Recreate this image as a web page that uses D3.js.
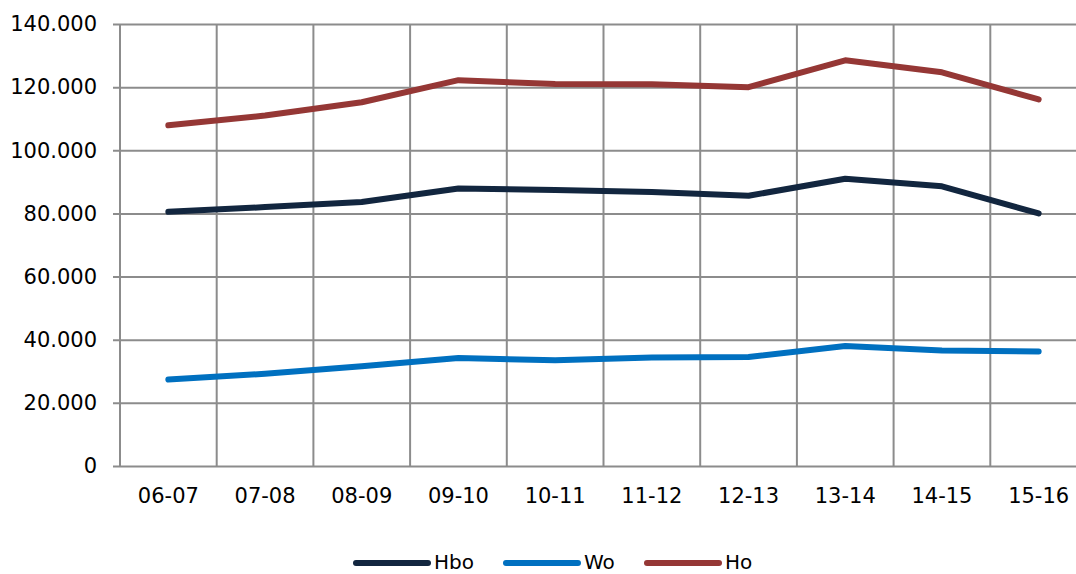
<!DOCTYPE html>
<html>
<head>
<meta charset="utf-8">
<script src="https://cdn.jsdelivr.net/npm/d3@7"></script>
<style>
    body { margin: 0; background: #fff; }
    text { font-family: "DejaVu Sans", sans-serif; fill: #000; }
</style>
</head>
<body>
<svg id="chart"></svg>
<script>
// school years on the x axis
var years = ["06-07", "07-08", "08-09", "09-10", "10-11", "11-12", "12-13", "13-14", "14-15", "15-16"];

// values in thousands
var hbo = [80.5, 82.0, 83.6, 87.9, 87.4, 86.8, 85.6, 91.0, 88.6, 80.0];
var wo = [27.4, 29.2, 31.6, 34.2, 33.5, 34.4, 34.5, 38.0, 36.6, 36.3];
var ho = [107.9, 111.0, 115.2, 122.2, 121.0, 120.9, 120.0, 128.5, 124.7, 116.1];

var yTicks = [0, 20, 40, 60, 80, 100, 120, 140];

var seriesNames = ["Hbo", "Wo", "Ho"];
var seriesColors = ["#12263f", "#0070c0", "#953735"];

var margin = {top: 24, left: 120};
var width = 967;
var height = 442;

var svg = d3.select("#chart")
    .attr("width", 1076)
    .attr("height", 574);

var chart = svg.append("g")
    .attr("transform", "translate(" + margin.left + "," + margin.top + ")");

var x = d3.scaleBand()
    .domain(years)
    .range([0, width]);

var y = d3.scaleLinear()
    .domain([0, 140])
    .range([height, 0]);

// horizontal grid + y ticks
var yAxis = d3.axisLeft(y)
    .tickValues(yTicks)
    .tickSize(-(width + 7))
    .tickPadding(16)
    .tickFormat(function (d) {
        return d === 0 ? "0" : d + ".000";
    });

chart.append("g")
    .attr("class", "y axis")
    .attr("transform", "translate(-7,0)")
    .call(yAxis)
    .call(function (g) {
        g.select(".domain").remove();
        g.selectAll(".tick line").attr("stroke", "#8c8c8c").attr("stroke-width", 2);
        g.selectAll(".tick text")
            .attr("font-size", "21px")
            .attr("font-family", "DejaVu Sans");
    });

// vertical grid at band edges
chart.append("g")
    .selectAll("line")
    .data(years)
    .enter()
    .append("line")
    .attr("x1", function (d) { return x(d); })
    .attr("x2", function (d) { return x(d); })
    .attr("y1", 0)
    .attr("y2", height)
    .attr("stroke", "#8c8c8c")
    .attr("stroke-width", 2);

// x axis labels
var xAxis = d3.axisBottom(x)
    .tickSize(0)
    .tickPadding(22);

chart.append("g")
    .attr("class", "x axis")
    .attr("transform", "translate(0," + height + ")")
    .call(xAxis)
    .call(function (g) {
        g.select(".domain").remove();
        g.selectAll(".tick text")
            .attr("font-size", "21px")
            .attr("font-family", "DejaVu Sans");
    });

// lines
var line = d3.line()
    .x(function (d, i) { return x(years[i]) + x.bandwidth() / 2; })
    .y(function (d) { return y(d); });

[hbo, wo, ho].forEach(function (values, i) {
    chart.append("path")
        .datum(values)
        .attr("fill", "none")
        .attr("stroke", seriesColors[i])
        .attr("stroke-width", 6)
        .attr("stroke-linecap", "round")
        .attr("stroke-linejoin", "round")
        .attr("d", line);
});

// legend
var legendX = [356, 506, 647];
var legend = svg.append("g")
    .attr("transform", "translate(0,563)");

seriesNames.forEach(function (name, i) {
    legend.append("line")
        .attr("x1", legendX[i])
        .attr("x2", legendX[i] + 72)
        .attr("y1", 0)
        .attr("y2", 0)
        .attr("stroke", seriesColors[i])
        .attr("stroke-width", 6)
        .attr("stroke-linecap", "round");
    legend.append("text")
        .attr("x", legendX[i] + 78)
        .attr("y", 6)
        .attr("font-size", "20px")
        .text(name);
});
</script>
</body>
</html>
